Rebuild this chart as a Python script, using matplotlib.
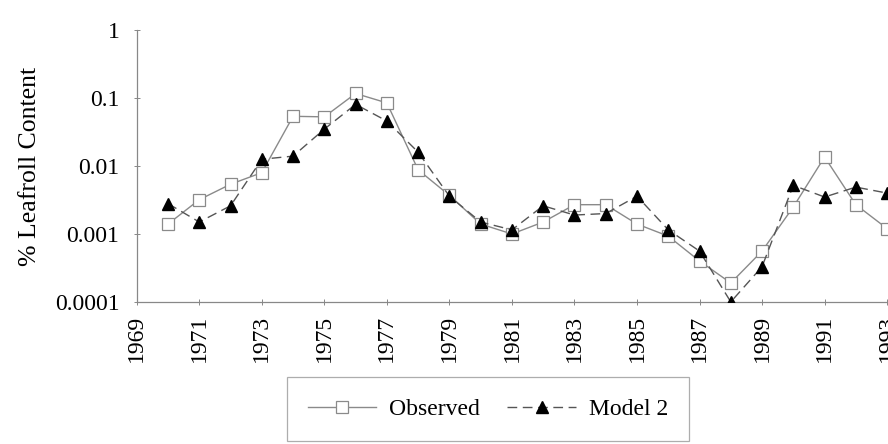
import matplotlib
matplotlib.use("Agg")
import matplotlib.pyplot as plt
from matplotlib.ticker import FixedLocator, FixedFormatter, NullLocator
import numpy as np

years = list(range(1970, 1994))
observed = [0.0014, 0.0032, 0.0054, 0.0080, 0.054, 0.053, 0.117, 0.085,
            0.0088, 0.0037, 0.0014, 0.0010, 0.0015, 0.0027, 0.0027, 0.0014,
            0.00093, 0.00040, 0.00019, 0.00056, 0.0025, 0.0136, 0.0027, 0.0012]
model2 = [0.0028, 0.0015, 0.0026, 0.0126, 0.014, 0.035, 0.081, 0.046,
          0.016, 0.0036, 0.0015, 0.00115, 0.0026, 0.0019, 0.0020, 0.0036,
          0.00115, 0.00056, 0.0001, 0.00033, 0.0052, 0.0035, 0.0049, 0.0040]
xtick_years = list(range(1969, 1994, 2))
ytick_vals = [0.0001, 0.001, 0.01, 0.1, 1]
ytick_labels = ["0.0001", "0.001", "0.01", "0.1", "1"]

plt.rcParams['font.family'] = ['Liberation Serif', 'DejaVu Serif']
plt.rcParams['font.size'] = 17

fig = plt.figure(figsize=(8.88, 4.44), dpi=100)
ax = fig.add_axes([0.154, 0.32, 0.845, 0.612])

ax.plot(years, observed, color="#8a8a8a", lw=1.0, marker="s", ms=8,
        mfc="white", mec="#8a8a8a", mew=0.9, label="Observed", zorder=3)
ax.plot(years, model2, color="#555555", lw=1.0, ls=(0, (7, 4)), marker="^",
        ms=8.5, mfc="black", mec="black", label="Model 2", zorder=4)

ax.set_yscale("log")
ax.set_ylim(0.0001, 1)
ax.set_xlim(1969, 1993)
ax.yaxis.set_major_locator(FixedLocator(ytick_vals))
ax.yaxis.set_major_formatter(FixedFormatter(ytick_labels))
ax.yaxis.set_minor_locator(NullLocator())
ax.set_xticks(xtick_years)
ax.set_xticklabels([str(y) for y in xtick_years], rotation=90)
ax.tick_params(axis="both", direction="inout", length=5, width=0.7,
               color="#888888")
ax.tick_params(axis="y", pad=10)
ax.tick_params(axis="x", pad=7)

for side in ["top", "right"]:
    ax.spines[side].set_visible(False)
for side in ["left", "bottom"]:
    ax.spines[side].set_color("#888888")
    ax.spines[side].set_linewidth(0.9)
ax.spines["left"].set_zorder(0)

ax.set_ylabel("% Leafroll Content", fontsize=18.5, labelpad=10)

leg = fig.legend(loc="center", bbox_to_anchor=(0.33, 0.005, 0.439, 0.146),
                 ncol=2, frameon=True, fancybox=False, handlelength=2.9,
                 columnspacing=1.15, handletextpad=0.55, borderpad=0.9)
leg.get_frame().set_edgecolor("#999999")
leg.get_frame().set_linewidth(0.9)

plt.savefig("out.png", dpi=100)
